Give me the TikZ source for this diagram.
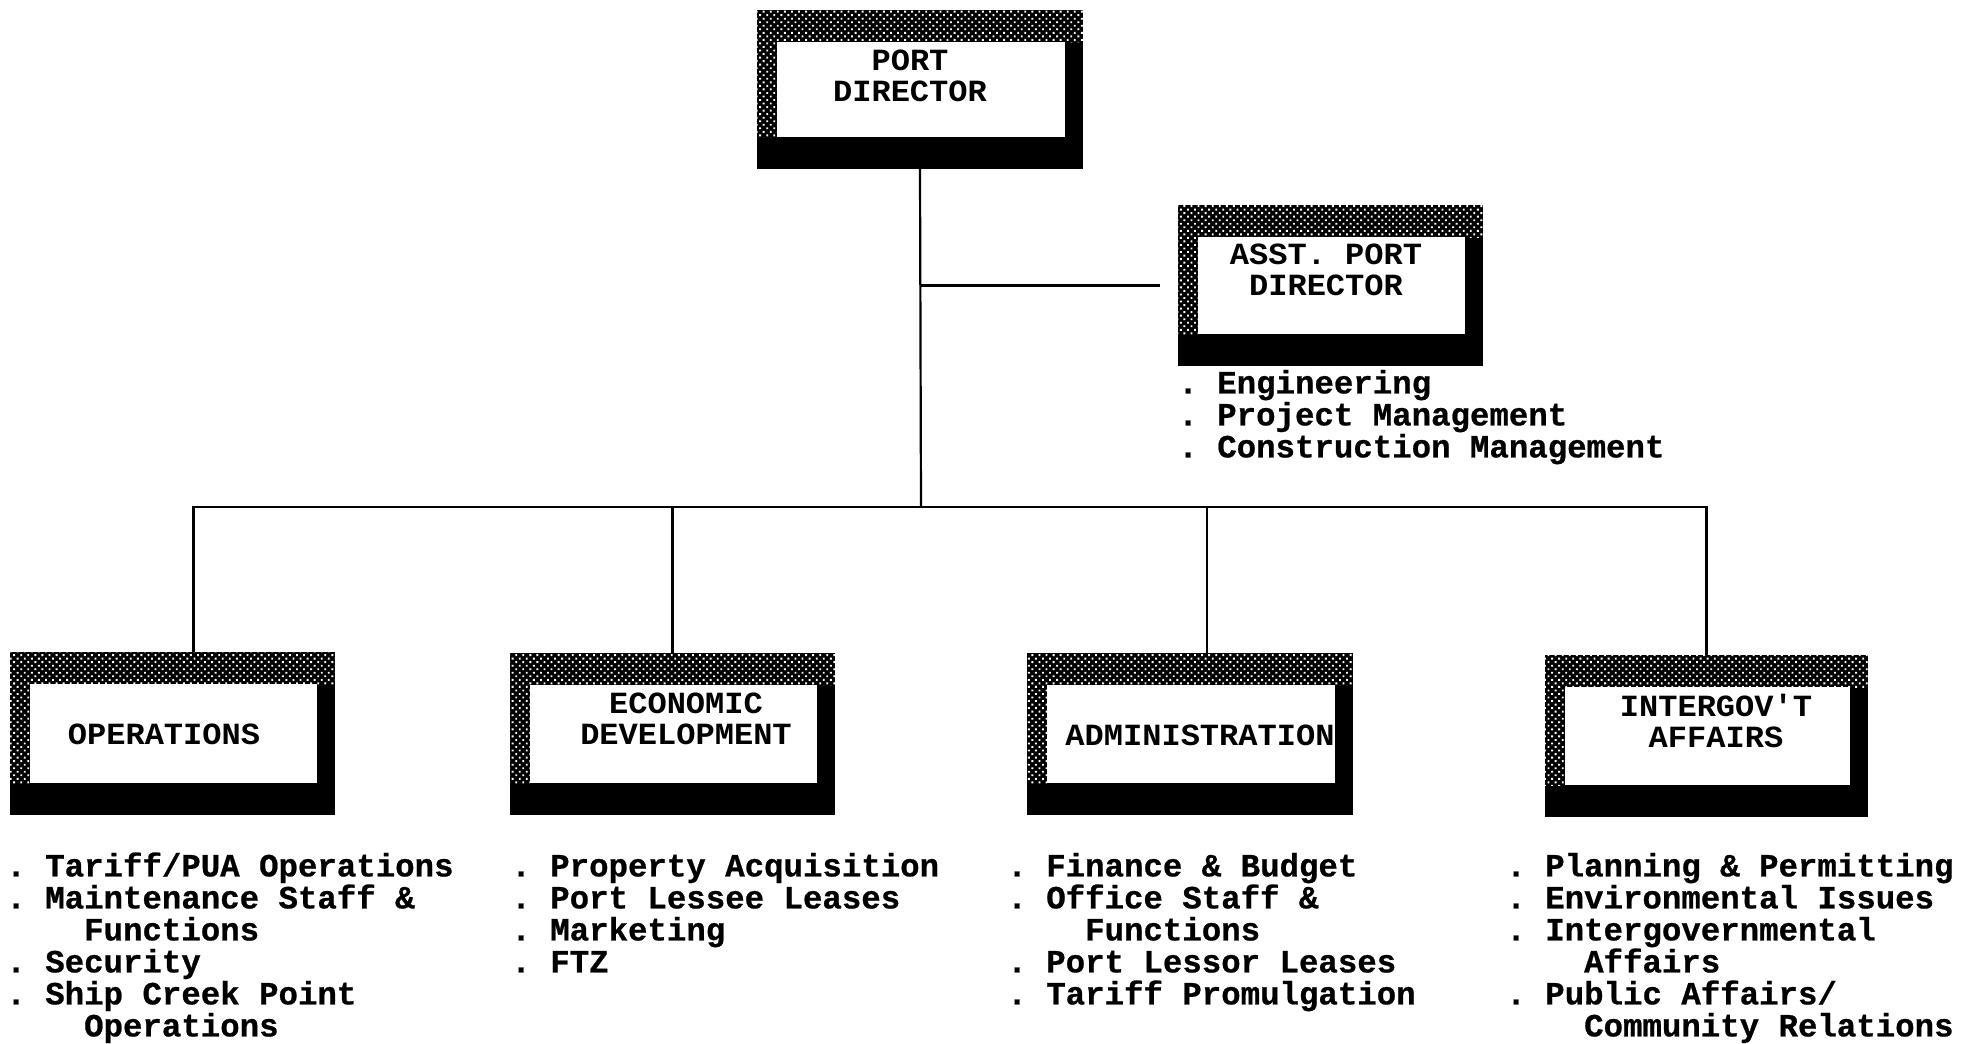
\documentclass[tikz,border=0pt]{standalone}
\usepackage{fontspec}
\newfontfamily\boxfam[Ligatures=TeXOff, FakeStretch=1.04]{Liberation Mono}
\newfontfamily\listfam[Ligatures=TeXOff, BoldFeatures={FakeBold=0.7}]{Liberation Mono}
\newcommand\bxfont{\boxfam\bfseries\fontsize{15.4}{15.5}\selectfont}
\newcommand\lsfont{\listfam\bfseries\fontsize{16.2}{16}\selectfont}
\usetikzlibrary{patterns.meta}
\frenchspacing
\begin{document}
\begin{tikzpicture}[x=0.5pt,y=-0.5pt,
  orgbox/.style 2 args={anchor=north west, minimum width=#1, minimum height=#2,
    inner sep=0pt, outer sep=0pt,
    path picture={
      \fill[black] (path picture bounding box.south west) rectangle (path picture bounding box.north east);
      \fill[pattern={Dots[distance=2.5pt,radius=0.66pt,angle=45]}, pattern color=white]
        ([yshift=-16pt]path picture bounding box.north west) rectangle (path picture bounding box.north east);
      \fill[pattern={Dots[distance=2.5pt,radius=0.66pt,angle=45]}, pattern color=white]
        ([yshift=-16pt]path picture bounding box.north west) rectangle ([xshift=10pt,yshift=16pt]path picture bounding box.south west);
      \fill[white] ([xshift=10pt,yshift=-16pt]path picture bounding box.north west) rectangle ([xshift=-9pt,yshift=16pt]path picture bounding box.south east);
    }},
  boxtext/.style={font=\bxfont, align=center, inner sep=0pt},
  listtext/.style={font=\lsfont, align=left, inner sep=0pt, anchor=north west},
  conn/.style={line width=1.1pt, black}
]
\useasboundingbox[fill=white] (0,0) rectangle (1967,1044);

% boxes
\node[orgbox={163pt}{79.5pt}] (pd) at (757,10) {};
\node[orgbox={152.5pt}{80.5pt}] (asst) at (1178,205) {};
\node[orgbox={162.5pt}{81.5pt}] (ops) at (10,652) {};
\node[orgbox={162.5pt}{81pt}] (eco) at (510,653) {};
\node[orgbox={163pt}{81pt}] (adm) at (1027,653) {};
\node[orgbox={161.5pt}{81pt}] (ig) at (1545,655) {};

% box texts
\node[boxtext] (pdt) at (910,76) {PORT\\DIRECTOR};
\node[boxtext] (asstt) at (1326,270) {ASST. PORT\\DIRECTOR};
\node[boxtext] (opst) at (164,734) {OPERATIONS};
\node[boxtext] (ecot) at (686,719) {ECONOMIC\\DEVELOPMENT};
\node[boxtext] (admt) at (1200,735) {ADMINISTRATION};
\node[boxtext] (igt) at (1716,721) {INTERGOV'T\\AFFAIRS};

% lists
\node[listtext] (asstl) at (1178,369) {\rule{0pt}{12pt}.~Engineering\\.~Project Management\\.~Construction Management};
\node[listtext] (opsl) at (6,852) {\rule{0pt}{12pt}.~Tariff/PUA Operations\\.~Maintenance Staff \&\\~~~~Functions\\.~Security\\.~Ship Creek Point\\~~~~Operations};
\node[listtext] (ecol) at (511,852) {\rule{0pt}{12pt}.~Property Acquisition\\.~Port Lessee Leases\\.~Marketing\\.~FTZ};
\node[listtext] (adml) at (1007,852) {\rule{0pt}{12pt}.~Finance \& Budget\\.~Office Staff \&\\~~~~Functions\\.~Port Lessor Leases\\.~Tariff Promulgation};
\node[listtext] (igl) at (1506,852) {\rule{0pt}{12pt}.~Planning \& Permitting\\.~Environmental Issues\\.~Intergovernmental\\~~~~Affairs\\.~Public Affairs/\\~~~~Community Relations};

% connectors
\coordinate (bus) at (921,507);
\draw[conn] (pd.south) -- (bus);
\draw[conn] (pd.south |- asst.west) -- ([xshift=-9pt]asst.west);
\draw[conn] ([xshift=10.5pt]ops.north) |- (bus) -| (ig.north);
\draw[conn] (eco.north) -- (eco.north |- bus);
\draw[conn] ([xshift=8.5pt]adm.north) -- ([xshift=8.5pt]adm.north |- bus);
\end{tikzpicture}
\end{document}
